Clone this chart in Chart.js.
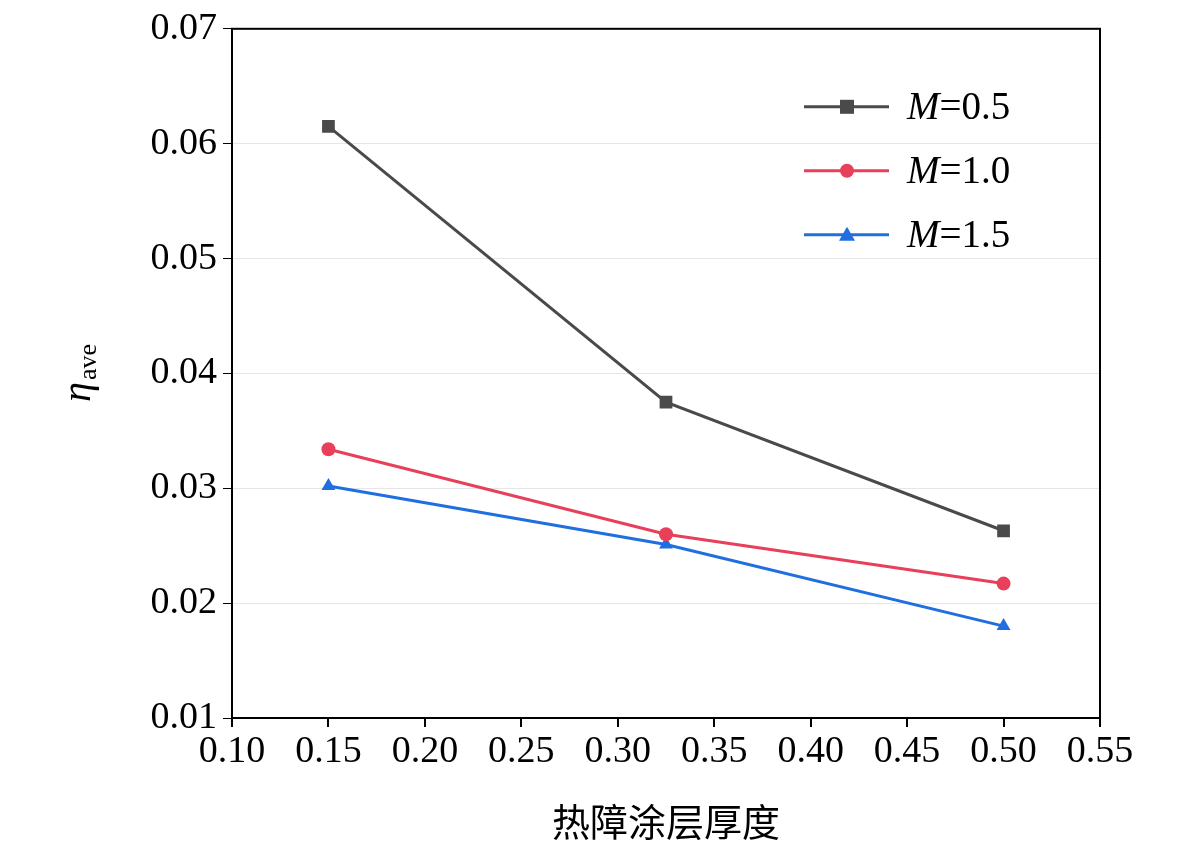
<!DOCTYPE html>
<html><head><meta charset="utf-8">
<script src="https://cdn.jsdelivr.net/npm/chart.js@4"></script>
<style>html,body{margin:0;background:#fff}#wrap{width:1181px;height:848px}</style>
</head><body><div id="wrap"><canvas id="c"></canvas></div>
<script>
const thickness = [0.15, 0.325, 0.5];
const m05 = [0.0615, 0.0375, 0.0263];
const m10 = [0.0334, 0.0260, 0.0217];
const m15 = [0.0302, 0.0251, 0.0180];
const seriesNames = ['0.5', '1.0', '1.5'];
const serif = '"Liberation Serif", "Times New Roman", serif';

function pts(ys) { return thickness.map((x, i) => ({x: x, y: ys[i]})); }

const frame = {
  id: 'frame',
  afterDraw(chart) {
    const {ctx, chartArea: a} = chart;
    ctx.save();
    ctx.strokeStyle = '#000'; ctx.lineWidth = 2;
    ctx.strokeRect(a.left, a.top, a.right - a.left, a.bottom - a.top);
    // y title
    ctx.translate(90, 372); ctx.rotate(-Math.PI / 2);
    ctx.fillStyle = '#000';
    ctx.font = 'italic 40px ' + serif; ctx.textBaseline = 'alphabetic';
    ctx.fillText('η', -30, 0);
    ctx.font = '26px ' + serif; ctx.fillText('ave', -8, 6);
    ctx.restore();
    // legend
    ctx.save();
    chart.data.datasets.forEach((ds, i) => {
      const y = a.top + 78 + i * 64, x0 = a.left + 572;
      ctx.strokeStyle = ds.borderColor; ctx.lineWidth = 3;
      ctx.beginPath(); ctx.moveTo(x0, y); ctx.lineTo(x0 + 85, y); ctx.stroke();
      ctx.fillStyle = ds.backgroundColor;
      const cx = x0 + 43;
      ctx.beginPath();
      if (ds.pointStyle === 'rect') ctx.rect(cx - 7, y - 7, 14, 14);
      else if (ds.pointStyle === 'circle') ctx.arc(cx, y, 7, 0, Math.PI * 2);
      else { ctx.moveTo(cx, y - 8); ctx.lineTo(cx + 8, y + 6); ctx.lineTo(cx - 8, y + 6); ctx.closePath(); }
      ctx.fill();
      ctx.fillStyle = '#000'; ctx.textBaseline = 'middle';
      ctx.font = 'italic 39px ' + serif; ctx.fillText('M', x0 + 103, y + 2);
      const w = ctx.measureText('M').width;
      ctx.font = '39px ' + serif; ctx.fillText('=' + seriesNames[i], x0 + 103 + w, y + 2);
    });
    ctx.restore();
  }
};

function ds(data, color, style) {
  return {data: pts(data), borderColor: color, backgroundColor: color, pointStyle: style,
    pointRadius: style === 'rect' ? 9 : (style === 'triangle' ? 8 : 7), borderWidth: 3, pointBorderWidth: 0};
}

new Chart(document.getElementById('c'), {
  type: 'line',
  data: {datasets: [
    ds(m05, '#4a4a4a', 'rect'),
    ds(m10, '#e8405a', 'circle'),
    ds(m15, '#1f6fe0', 'triangle')
  ]},
  options: {
    responsive: true, maintainAspectRatio: false, animation: false,
    layout: {padding: {top: 20, right: 81, left: 0, bottom: 0}},
    plugins: {legend: {display: false}, tooltip: {enabled: false}},
    scales: {
      x: {type: 'linear', min: 0.10, max: 0.55,
        afterFit: s => { s.height = 130; },
        afterBuildTicks: s => { s.ticks = [0.10,0.15,0.20,0.25,0.30,0.35,0.40,0.45,0.50,0.55].map(v => ({value: v})); },
        ticks: {color: '#000', font: {family: serif, size: 38}, padding: 2, maxRotation: 0,
          callback: v => v.toFixed(2)},
        grid: {display: true, drawOnChartArea: false, tickLength: 9, color: '#000', lineWidth: 2},
        border: {display: false},
        title: {display: true, text: '热障涂层厚度', color: '#000',
          font: {family: '"Noto Sans CJK SC"', size: 38}, padding: {top: 20}}
      },
      y: {min: 0.01, max: 0.07,
        afterFit: s => { s.width = 232; },
        ticks: {stepSize: 0.01, color: '#000', font: {family: serif, size: 38}, padding: 6,
          callback: v => v.toFixed(2)},
        grid: {color: ctx => ctx.tick && (ctx.tick.value < 0.015 || ctx.tick.value > 0.065) ? 'rgba(0,0,0,0)' : '#e6e6e6',
          lineWidth: 1, tickLength: 9, tickColor: '#000'},
        border: {display: false}
      }
    }
  },
  plugins: [frame]
});
</script></body></html>
